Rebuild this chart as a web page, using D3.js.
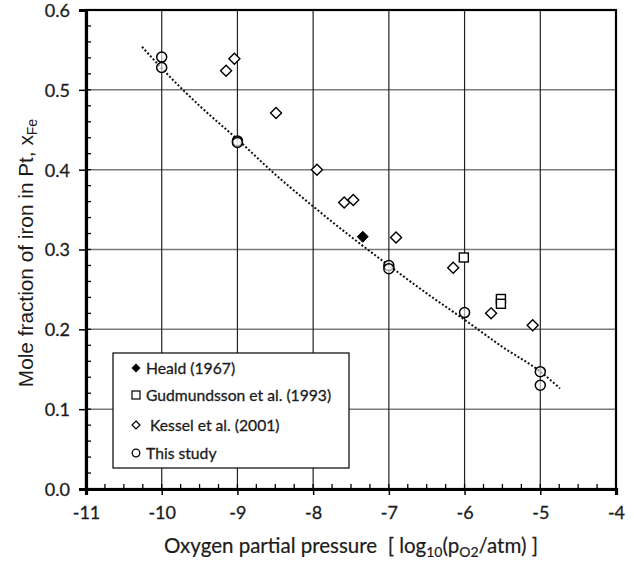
<!DOCTYPE html>
<meta charset="utf-8">
<body style="margin:0;background:#fff;">
<svg width="634" height="563"></svg>
</body>
<script src="https://cdn.jsdelivr.net/npm/d3@7"></script>
<script>
    // data
    let healdX = [-7.345], healdY = [0.316];
    let gudX = [-6.01, -5.52, -5.52], gudY = [0.290, 0.238, 0.232];
    let kesselX = [-9.15, -9.04, -8.49, -7.95, -7.59, -7.47, -6.905, -6.15, -5.65, -5.10];
    let kesselY = [0.524, 0.539, 0.471, 0.400, 0.359, 0.362, 0.315, 0.277, 0.220, 0.205];
    let studyX = [-10, -10, -9, -9, -7, -7, -6, -5, -5];
    let studyY = [0.541, 0.528, 0.436, 0.434, 0.280, 0.276, 0.221, 0.147, 0.130];
    let trendX = [-10.26, -10, -9.5, -9, -8.5, -8, -7.5, -7, -6.5, -6, -5.5, -5, -4.74];
    let trendY = [0.554, 0.527, 0.480, 0.438, 0.394, 0.354, 0.316, 0.280, 0.245, 0.212, 0.178, 0.147, 0.126];
    let xTicks = [-11, -10, -9, -8, -7, -6, -5, -4];
    let yTicks = [0, 0.1, 0.2, 0.3, 0.4, 0.5, 0.6];
    let legendLabels = ["Heald (1967)", "Gudmundsson et al. (1993)", " Kessel et al. (2001)", "This study"];

    let svg = d3.select("svg"),
        pL = 86, pT = 10, pR = 616, pB = 489;

    let x = d3.scaleLinear().domain([-11, -4]).range([pL, pR]),
        y = d3.scaleLinear().domain([0, 0.6]).range([pB, pT]);

    let font = "Lato, 'Open Sans', sans-serif",
        ink = "#1c1c1c";

    // grid
    svg.append("g").selectAll("line").data(yTicks.slice(1, -1)).join("line")
        .attr("x1", pL).attr("x2", pR)
        .attr("y1", d => y(d)).attr("y2", d => y(d))
        .attr("stroke", "#7a7a7a").attr("stroke-width", 1.5);
    svg.append("g").selectAll("line").data(xTicks.slice(1, -1)).join("line")
        .attr("y1", pT).attr("y2", pB)
        .attr("x1", d => x(d)).attr("x2", d => x(d))
        .attr("stroke", "#222").attr("stroke-width", 1.2);

    // minor ticks, inside
    let yMinor = d3.range(0, 0.6001, 0.02);
    svg.append("g").selectAll("line").data(yMinor).join("line")
        .attr("x1", pL).attr("x2", pL + 5)
        .attr("y1", d => y(d)).attr("y2", d => y(d))
        .attr("stroke", "#000").attr("stroke-width", 1.3);
    let xMinor = d3.range(-11, -3.999, 0.25);
    svg.append("g").selectAll("line").data(xMinor).join("line")
        .attr("y1", pB).attr("y2", pB - 5)
        .attr("x1", d => x(d)).attr("x2", d => x(d))
        .attr("stroke", "#000").attr("stroke-width", 1.3);

    // frame
    svg.append("rect").attr("x", pL).attr("y", pT)
        .attr("width", pR - pL).attr("height", pB - pT)
        .attr("fill", "none").attr("stroke", "#000").attr("stroke-width", 2.2);

    // axes
    let xAxis = svg.append("g").attr("transform", `translate(0,${pB})`)
        .call(d3.axisBottom(x).tickValues(xTicks).tickFormat(d3.format("d")).tickSize(6).tickPadding(11));
    let yAxis = svg.append("g").attr("transform", `translate(${pL},0)`)
        .call(d3.axisLeft(y).tickValues(yTicks).tickFormat(d3.format(".1f")).tickSize(7).tickPadding(9));
    [xAxis, yAxis].forEach(g => {
        g.select(".domain").attr("stroke-width", 3.2);
        g.selectAll(".tick line").attr("stroke-width", 1.5);
        g.selectAll("text").attr("font-family", font).attr("font-size", 18)
            .attr("fill", ink).attr("stroke", ink).attr("stroke-width", 0.3);
    });
    xAxis.selectAll("text").text(d => d < 0 ? "-" + Math.abs(d) : d);
    yAxis.selectAll("text").attr("dy", "0.36em");

    // trend line
    let trend = trendX.map((d, i) => [d, trendY[i]]);
    svg.append("path").datum(trend)
        .attr("d", d3.line().x(d => x(d[0])).y(d => y(d[1])).curve(d3.curveMonotoneX))
        .attr("fill", "none").attr("stroke", "#111").attr("stroke-width", 2)
        .attr("stroke-dasharray", "2,2");

    // markers
    let diamond = (cx, cy, s) => `M${cx},${cy - s}L${cx + s},${cy}L${cx},${cy + s}L${cx - s},${cy}Z`;
    let g = svg.append("g");
    g.selectAll(".k").data(kesselX.map((d, i) => [d, kesselY[i]])).join("path")
        .attr("d", d => diamond(x(d[0]), y(d[1]), 5.5))
        .attr("fill", "#fff").attr("stroke", "#000").attr("stroke-width", 1.4);
    g.selectAll(".g").data(gudX.map((d, i) => [d, gudY[i]])).join("rect")
        .attr("x", d => x(d[0]) - 4.5).attr("y", d => y(d[1]) - 4.5)
        .attr("width", 9).attr("height", 9)
        .attr("fill", "#fff").attr("stroke", "#000").attr("stroke-width", 1.4);
    g.selectAll(".s").data(studyX.map((d, i) => [d, studyY[i]])).join("circle")
        .attr("cx", d => x(d[0])).attr("cy", d => y(d[1])).attr("r", 5)
        .attr("fill", "#fff").attr("fill-opacity", 0.6).attr("stroke", "#000").attr("stroke-width", 1.5);
    g.selectAll(".h").data(healdX.map((d, i) => [d, healdY[i]])).join("path")
        .attr("d", d => diamond(x(d[0]), y(d[1]), 5.5))
        .attr("fill", "#000").attr("stroke", "#000").attr("stroke-width", 1);

    // legend
    let lg = svg.append("g");
    lg.append("rect").attr("x", 113).attr("y", 353).attr("width", 236).attr("height", 115)
        .attr("fill", "#fff").attr("stroke", "#000").attr("stroke-width", 1.2);
    let rowY = [368, 395, 425, 453];
    let mx = 136;
    lg.append("path").attr("d", diamond(mx, rowY[0], 4.5)).attr("fill", "#000");
    lg.append("rect").attr("x", mx - 4).attr("y", rowY[1] - 4).attr("width", 8).attr("height", 8)
        .attr("fill", "#fff").attr("stroke", "#000").attr("stroke-width", 1.2);
    lg.append("path").attr("d", diamond(mx, rowY[2], 4)).attr("fill", "#fff")
        .attr("stroke", "#000").attr("stroke-width", 1.2);
    lg.append("circle").attr("cx", mx).attr("cy", rowY[3]).attr("r", 3.8).attr("fill", "#fff")
        .attr("stroke", "#000").attr("stroke-width", 1.3);
    lg.selectAll("text").data(legendLabels).join("text")
        .attr("x", 146).attr("y", (d, i) => rowY[i] + 5.5)
        .attr("font-family", font).attr("font-size", 15.7)
        .attr("fill", ink).attr("stroke", ink).attr("stroke-width", 0.3)
        .style("white-space", "pre")
        .text(d => d);

    // axis titles
    let xt = svg.append("text").attr("x", 351).attr("y", 553).attr("text-anchor", "middle")
        .attr("font-family", font).attr("font-size", 20.5)
        .attr("fill", ink).attr("stroke", ink).attr("stroke-width", 0.2)
        .style("white-space", "pre");
    xt.append("tspan").text("Oxygen partial pressure  [ log");
    xt.append("tspan").attr("font-size", 14).attr("dy", 4).text("10");
    xt.append("tspan").attr("dy", -4).text("(p");
    xt.append("tspan").attr("font-size", 14).attr("dy", 4).text("O2");
    xt.append("tspan").attr("dy", -4).text("/atm) ]");

    let yt = svg.append("text").attr("transform", "translate(33,253) rotate(-90)")
        .attr("text-anchor", "middle")
        .attr("font-family", "'Liberation Sans', Arial, sans-serif").attr("font-size", 20.8)
        .attr("fill", ink);
    yt.append("tspan").text("Mole fraction of iron in Pt, x");
    yt.append("tspan").attr("font-size", 14).attr("dy", 4).text("Fe");
</script>
